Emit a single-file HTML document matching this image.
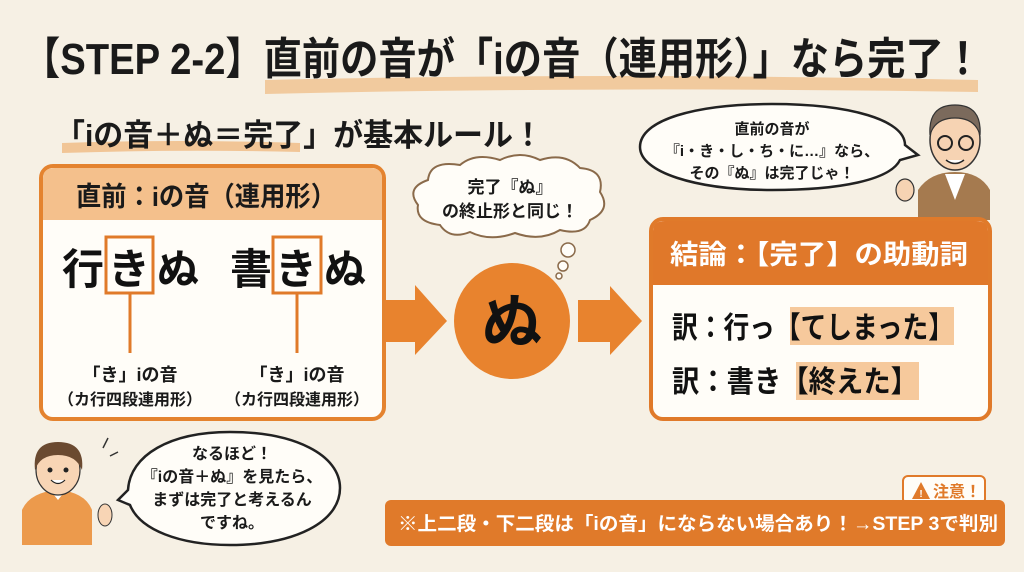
<!DOCTYPE html>
<html><head><meta charset="utf-8"><style>
html,body{margin:0;padding:0;background:#f6f0e4;}
svg{display:block;font-family:"Liberation Sans","Noto Sans CJK JP",sans-serif;font-weight:bold;}
</style></head><body>
<svg width="1024" height="572" viewBox="0 0 1024 572" xmlns="http://www.w3.org/2000/svg">
<rect width="1024" height="572" fill="#f6f0e4"/>
<!-- title -->
<path d="M265 80 Q600 72 978 80 L978 92 Q600 86 265 94 Z" fill="#f1c596" opacity="0.9"/>
<text x="22" y="74" font-size="44" fill="#1a1a1a" textLength="960" lengthAdjust="spacingAndGlyphs">【STEP 2-2】直前の音が「iの音（連用形）」なら完了！</text>
<path d="M62 143 Q180 139 300 143 L300 152 Q180 149 62 153 Z" fill="#f1c596"/>
<text x="55" y="146" font-size="31" fill="#1a1a1a" textLength="488" lengthAdjust="spacingAndGlyphs">「iの音＋ぬ＝完了」が基本ルール！</text>

<!-- left box -->
<rect x="41" y="166" width="343" height="253" rx="12" fill="#fffdf8" stroke="#e4832f" stroke-width="4"/>
<path d="M43 178 Q43 168 55 168 L370 168 Q382 168 382 178 L382 220 L43 220 Z" fill="#f4c08c"/>
<text x="76" y="206" font-size="27" fill="#1a1a1a" textLength="260" lengthAdjust="spacingAndGlyphs">直前：iの音（連用形）</text>
<rect x="106" y="237" width="47" height="56" fill="none" stroke="#e07a2a" stroke-width="3"/>
<rect x="273" y="237" width="48" height="56" fill="none" stroke="#e07a2a" stroke-width="3"/>
<text x="62" y="284" font-size="42" fill="#111">行</text>
<text x="108" y="284" font-size="42" fill="#111">き</text>
<text x="157" y="284" font-size="42" fill="#111">ぬ</text>
<text x="230" y="284" font-size="42" fill="#111">書</text>
<text x="275" y="284" font-size="42" fill="#111">き</text>
<text x="324" y="284" font-size="42" fill="#111">ぬ</text>
<line x1="130" y1="293" x2="130" y2="353" stroke="#e07a2a" stroke-width="3"/>
<line x1="297" y1="293" x2="297" y2="353" stroke="#e07a2a" stroke-width="3"/>
<text x="130" y="381" font-size="18" fill="#1a1a1a" text-anchor="middle">「き」iの音</text>
<text x="130" y="405" font-size="16" fill="#1a1a1a" text-anchor="middle">（カ行四段連用形）</text>
<text x="297" y="381" font-size="18" fill="#1a1a1a" text-anchor="middle">「き」iの音</text>
<text x="297" y="405" font-size="16" fill="#1a1a1a" text-anchor="middle">（カ行四段連用形）</text>

<!-- arrows -->
<path d="M385 300 L415 300 L415 285 L447 321 L415 355 L415 342 L385 342 Z" fill="#e8832e"/>
<path d="M578 300 L610 300 L610 286 L642 321 L610 355 L610 342 L578 342 Z" fill="#e8832e"/>
<circle cx="512" cy="321" r="58" fill="#e8832e"/>
<text x="512" y="343" font-size="60" fill="#111" text-anchor="middle">ぬ</text>

<!-- cloud -->
<path d="M440 225 Q415 222 418 205 Q405 188 428 180 Q430 160 460 165 Q475 152 500 160 Q520 150 540 160 Q565 152 580 168 Q605 170 600 192 Q612 210 590 220 Q585 236 560 230 Q540 242 515 233 Q490 242 470 232 Q450 240 440 225 Z" fill="#fffdf8" stroke="#8a6a4a" stroke-width="2"/>
<circle cx="568" cy="250" r="7" fill="#fffdf8" stroke="#8a6a4a" stroke-width="1.5"/>
<circle cx="563" cy="266" r="5" fill="#fffdf8" stroke="#8a6a4a" stroke-width="1.5"/>
<circle cx="559" cy="276" r="3" fill="#fffdf8" stroke="#8a6a4a" stroke-width="1.5"/>
<text x="510" y="193" font-size="17" fill="#1a1a1a" text-anchor="middle">完了『ぬ』</text>
<text x="510" y="217" font-size="17" fill="#1a1a1a" text-anchor="middle">の終止形と同じ！</text>

<!-- teacher bubble -->
<path d="M772 104 C850 104 905 120 905 145 L918 155 L900 160 C890 180 840 190 772 190 C695 190 640 172 640 147 C640 120 695 104 772 104 Z" fill="#fffdf8" stroke="#222" stroke-width="2.5"/>
<text x="772" y="134" font-size="15" fill="#1a1a1a" text-anchor="middle">直前の音が</text>
<text x="772" y="156" font-size="15" fill="#1a1a1a" text-anchor="middle">『i・き・し・ち・に…』なら、</text>
<text x="772" y="178" font-size="15" fill="#1a1a1a" text-anchor="middle">その『ぬ』は完了じゃ！</text>
<!-- teacher -->
<path d="M918 220 L918 190 Q930 172 955 172 Q980 172 990 190 L990 220 Z" fill="#a57a4f"/>
<path d="M945 174 L955 200 L965 174 Z" fill="#fff"/>
<ellipse cx="955" cy="140" rx="25" ry="30" fill="#f6d3b3" stroke="#333" stroke-width="1.5"/>
<path d="M930 135 Q928 105 955 105 Q982 105 980 135 Q975 118 955 118 Q935 118 930 135 Z" fill="#7b6a5c" stroke="#333" stroke-width="1.2"/>
<circle cx="945" cy="143" r="7" fill="none" stroke="#222" stroke-width="2"/>
<circle cx="966" cy="143" r="7" fill="none" stroke="#222" stroke-width="2"/>
<path d="M946 160 Q955 167 964 160" fill="#fff" stroke="#222" stroke-width="1.5"/>
<ellipse cx="905" cy="190" rx="9" ry="11" fill="#f6d3b3" stroke="#333" stroke-width="1.2"/>

<!-- right box -->
<rect x="651" y="219" width="339" height="200" rx="12" fill="#fffdf8" stroke="#e07a2a" stroke-width="4"/>
<path d="M653 231 Q653 221 665 221 L976 221 Q988 221 988 231 L988 285 L653 285 Z" fill="#e0782a"/>
<text x="670" y="264" font-size="27" fill="#fff" textLength="298" lengthAdjust="spacingAndGlyphs">結論：【完了】の助動詞</text>
<rect x="790" y="307" width="164" height="38" fill="#f6c99c"/>
<rect x="796" y="362" width="123" height="38" fill="#f6c99c"/>
<text x="672" y="338" font-size="30" fill="#111" textLength="282" lengthAdjust="spacingAndGlyphs">訳：行っ【てしまった】</text>
<text x="672" y="392" font-size="30" fill="#111" textLength="246" lengthAdjust="spacingAndGlyphs">訳：書き【終えた】</text>

<!-- boy -->
<path d="M22 545 L22 510 Q30 492 58 490 Q85 492 92 510 L92 545 Z" fill="#ec9a4c"/>
<path d="M50 490 L58 500 L66 490 Z" fill="#fff"/>
<ellipse cx="58" cy="470" rx="22" ry="25" fill="#f8d5b5" stroke="#333" stroke-width="1.2"/>
<path d="M35 470 Q32 442 58 442 Q85 442 82 470 Q76 455 58 455 Q40 455 35 470 Z" fill="#6b4a30"/>
<circle cx="50" cy="470" r="2.5" fill="#222"/><circle cx="66" cy="470" r="2.5" fill="#222"/>
<path d="M51 480 Q58 487 65 480" fill="#fff" stroke="#222" stroke-width="1.2"/>
<ellipse cx="105" cy="515" rx="7" ry="11" fill="#f8d5b5" stroke="#333" stroke-width="1"/>
<line x1="103" y1="448" x2="108" y2="438" stroke="#333" stroke-width="1.5"/>
<line x1="110" y1="456" x2="118" y2="452" stroke="#333" stroke-width="1.5"/>
<!-- boy bubble -->
<path d="M230 432 C295 432 340 455 340 488 C340 522 295 545 230 545 C180 545 140 530 130 505 L118 500 L128 490 C130 455 170 432 230 432 Z" fill="#fffdf8" stroke="#222" stroke-width="2.5"/>
<text x="232" y="459" font-size="16" fill="#1a1a1a" text-anchor="middle">なるほど！</text>
<text x="232" y="482" font-size="16" fill="#1a1a1a" text-anchor="middle">『iの音＋ぬ』を見たら、</text>
<text x="232" y="505" font-size="16" fill="#1a1a1a" text-anchor="middle">まずは完了と考えるん</text>
<text x="232" y="528" font-size="16" fill="#1a1a1a" text-anchor="middle">ですね。</text>

<!-- warning -->
<rect x="903" y="476" width="82" height="28" rx="5" fill="#fffdf8" stroke="#e07a2a" stroke-width="2"/>
<path d="M912 499 L921 482 L930 499 Z" fill="#e07a2a"/>
<text x="921" y="497" font-size="10" fill="#fff" text-anchor="middle">!</text>
<text x="933" y="497" font-size="16" fill="#e07a2a">注意！</text>
<rect x="385" y="500" width="620" height="46" rx="6" fill="#e07a2a"/>
<text x="398" y="530" font-size="19" fill="#fff" textLength="600" lengthAdjust="spacingAndGlyphs">※上二段・下二段は「iの音」にならない場合あり！→STEP 3で判別</text>
</svg>
</body></html>
